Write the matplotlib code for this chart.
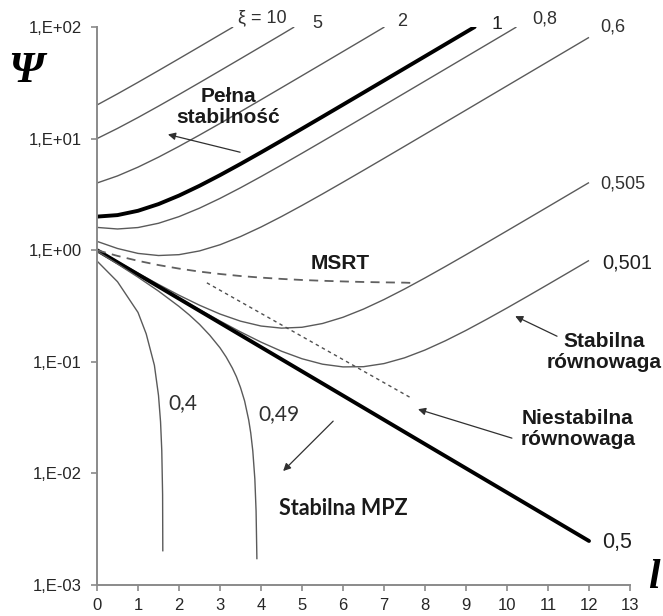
import matplotlib
matplotlib.use("Agg")
import matplotlib.pyplot as plt
from matplotlib.ticker import FixedLocator, FixedFormatter, NullLocator

# ---------------- data ----------------
l_grid = [0, 0.5, 1, 1.5, 2, 2.5, 3, 3.5, 4, 4.5, 5, 5.5, 6, 6.5, 7, 7.5,
          8, 8.5, 9, 9.5, 10, 10.5, 11, 11.5, 12]

l_xi10 = [0, 0.5, 1, 1.5, 2, 2.5, 3, 3.32]
psi_xi10 = [20, 25.17, 31.93, 40.70, 52.02, 66.60, 85.38, 100]

l_xi5 = [0, 0.5, 1, 1.5, 2, 2.5, 3, 3.5, 4, 4.5, 4.81]
psi_xi5 = [10, 12.34, 15.45, 19.53, 24.83, 31.70, 40.56, 51.96, 66.64, 85.50, 100]

l_xi2 = [0, 0.5, 1, 1.5, 2, 2.5, 3, 3.5, 4, 4.5, 5, 5.5, 6, 6.5, 7.01]
psi_xi2 = [4, 4.63, 5.55, 6.82, 8.52, 10.76, 13.67, 17.44, 22.30, 28.57,
           36.63, 46.99, 60.31, 77.41, 100]

l_xi1 = [0, 0.5, 1, 1.5, 2, 2.5, 3, 3.5, 4, 4.5, 5, 5.5, 6, 6.5, 7, 7.5,
         8, 8.5, 9, 9.21]
psi_xi1 = [2.0, 2.063, 2.255, 2.589, 3.086, 3.777, 4.705, 5.928, 7.524,
           9.593, 12.27, 15.71, 20.14, 25.83, 33.15, 42.55, 54.62, 70.12,
           90.03, 100]

l_xi08 = [0, 0.5, 1, 1.5, 2, 2.5, 3, 3.5, 4, 4.5, 5, 5.5, 6, 6.5, 7, 7.5,
          8, 8.5, 9, 9.5, 10, 10.23]
psi_xi08 = [1.6, 1.549, 1.596, 1.743, 1.999, 2.381, 2.912, 3.626, 4.569,
            5.798, 7.391, 9.449, 12.10, 15.51, 19.90, 25.54, 32.78, 42.08,
            54.02, 69.36, 89.06, 100]

psi_xi06 = [1.2, 1.036, 0.936, 0.896, 0.912, 0.985, 1.119, 1.325, 1.613,
            2.003, 2.519, 3.192, 4.067, 5.197, 6.653, 8.528, 10.94, 14.04,
            18.01, 23.13, 29.69, 38.12, 48.94, 62.84, 80.69]

psi_xi0505 = [1.01, 0.7916, 0.6230, 0.4935, 0.3951, 0.3214, 0.2679, 0.2313,
              0.2092, 0.2003, 0.2039, 0.2204, 0.2506, 0.2967, 0.3614, 0.4487,
              0.5643, 0.7153, 0.9113, 1.1645, 1.4909, 1.9109, 2.4510,
              3.1451, 4.0368]

psi_xi0501 = [1.002, 0.7814, 0.6098, 0.4766, 0.3733, 0.2935, 0.2321, 0.1853,
              0.1501, 0.1244, 0.1065, 0.0952, 0.0900, 0.0904, 0.0964,
              0.1085, 0.1275, 0.1545, 0.1911, 0.2399, 0.3035, 0.3864,
              0.4935, 0.6316, 0.8094]

l_xi05 = [0, 2, 4, 6, 8, 10, 12]
psi_xi05 = [1.0, 0.3679, 0.1353, 0.0498, 0.0183, 0.00674, 0.00248]

l_xi049 = [0, 0.5, 1, 1.5, 2, 2.25, 2.5, 2.75, 3, 3.15, 3.3, 3.4, 3.5, 3.6,
           3.7, 3.75, 3.8, 3.85, 3.88, 3.9]
psi_xi049 = [0.98, 0.7531, 0.5735, 0.4301, 0.3135, 0.2632, 0.2167, 0.1731,
             0.1335, 0.1104, 0.0880, 0.0736, 0.0588, 0.0446, 0.0301, 0.0230,
             0.0159, 0.0089, 0.0046, 0.0017]

l_xi04 = [0, 0.5, 1.0, 1.2, 1.4, 1.5, 1.55, 1.58, 1.6, 1.605]
psi_xi04 = [0.8, 0.522, 0.277, 0.178, 0.093, 0.050, 0.029, 0.016, 0.0065, 0.002]

l_msrt = [0, 0.5, 1, 1.5, 2, 2.5, 3, 3.5, 4, 4.5, 5, 5.5, 6, 6.5, 7, 7.5, 7.76]
psi_msrt = [1.0, 0.889, 0.803, 0.736, 0.684, 0.643, 0.612, 0.587, 0.568,
            0.553, 0.541, 0.532, 0.525, 0.519, 0.515, 0.512, 0.508]

l_unstable = [2.68, 7.68]
psi_unstable = [0.51, 0.047]

y_ticks = [1e-3, 1e-2, 1e-1, 1e0, 1e1, 1e2]
y_ticklabels = ["1,E-03", "1,E-02", "1,E-01", "1,E+00", "1,E+01", "1,E+02"]
x_ticks = list(range(0, 14))

# ---------------- figure ----------------
plt.rcParams['font.family'] = ['Liberation Sans', 'DejaVu Sans']
fig = plt.figure(figsize=(6.63, 6.16), dpi=100)
ax = fig.add_axes([97 / 663, 1 - 585 / 616, (630 - 97) / 663, (585 - 27) / 616])
ax.set_yscale('log')
ax.set_xlim(0, 13)
ax.set_ylim(1e-3, 1e2)

thin = dict(color='#5a5a5a', lw=1.0, solid_capstyle='butt')
thick = dict(color='black', lw=2.8, solid_capstyle='round')

ax.plot(l_xi10, psi_xi10, **thin)
ax.plot(l_xi5, psi_xi5, **thin)
ax.plot(l_xi2, psi_xi2, **thin)
ax.plot(l_xi1, psi_xi1, **thick)
ax.plot(l_xi08, psi_xi08, **thin)
ax.plot(l_grid, psi_xi06, **thin)
ax.plot(l_grid, psi_xi0505, **thin)
ax.plot(l_grid, psi_xi0501, **thin)
ax.plot(l_xi05, psi_xi05, **thick)
ax.plot(l_xi049, psi_xi049, **thin)
ax.plot(l_xi04, psi_xi04, **thin)
ax.plot(l_msrt, psi_msrt, color='#606060', lw=1.3, dashes=(5, 3.5))
ax.plot(l_unstable, psi_unstable, color='#505050', lw=1.0, dashes=(2.5, 2.5))

# axes styling
for s in ['top', 'right']:
    ax.spines[s].set_visible(False)
for s in ['left', 'bottom']:
    ax.spines[s].set_color('#8a8a8a')
    ax.spines[s].set_linewidth(1.4)
ax.yaxis.set_major_locator(FixedLocator(y_ticks))
ax.yaxis.set_major_formatter(FixedFormatter(y_ticklabels))
ax.yaxis.set_minor_locator(NullLocator())
ax.set_xticks(x_ticks)
ax.tick_params(axis='both', direction='out', length=4, width=1.2,
               color='#8a8a8a', labelcolor='#262626', labelsize=12)
ax.tick_params(axis='y', pad=7)
ax.tick_params(axis='x', pad=5)

# curve labels
lab = dict(fontsize=13, color='#303030', va='center')
ax.text(3.44, 122, "ξ = 10", ha='left', **lab)
ax.text(5.37, 108, "5", ha='center', **lab)
ax.text(7.44, 112, "2", ha='center', **lab)
ax.text(9.76, 106, "1", ha='center', fontsize=14, color='#202020', va='center')
ax.text(10.93, 117, "0,8", ha='center', **lab)
ax.text(12.59, 99.6, "0,6", ha='center', **lab)
ax.text(12.83, 3.9, "0,505", ha='center', **lab)
ax.text(12.93, 0.765, "0,501", ha='center', fontsize=14.5, color='#202020', va='center')
ax.text(12.68, 0.00242, "0,5", ha='center', fontsize=15.5, color='#202020', va='center')
ax.text(2.10, 0.0426, "0,4", ha='center', va='center', fontsize=15,
        color='#303030', family=['Lato', 'DejaVu Sans'])
ax.text(4.44, 0.0339, "0,49", ha='center', va='center', fontsize=15,
        color='#303030', family=['Lato', 'DejaVu Sans'])

# region labels
bold = dict(fontsize=15, fontweight='bold', color='#1a1a1a',
            ha='center', va='center', linespacing=1.1)
ax.text(3.20, 19.1, "Pełna\nstabilność", **bold)
ax.text(5.93, 0.765, "MSRT", **bold)
ax.text(12.37, 0.122, "Stabilna\nrównowaga", **bold)
ax.text(11.73, 0.0249, "Niestabilna\nrównowaga", **bold)
ax.text(6.0, 0.00488, "Stabilna MPZ", fontsize=15.5, fontweight='bold',
        color='#1a1a1a', ha='center', va='center',
        family=['Lato', 'DejaVu Sans'])

arrow = dict(arrowstyle='-|>', color='#303030', lw=0.9, mutation_scale=11,
             shrinkA=0, shrinkB=0)
ax.annotate("", xy=(1.73, 10.9), xytext=(3.49, 7.55), arrowprops=arrow)
ax.annotate("", xy=(10.20, 0.2564), xytext=(11.22, 0.1695), arrowprops=arrow)
ax.annotate("", xy=(7.83, 0.0376), xytext=(10.12, 0.0207), arrowprops=arrow)
ax.annotate("", xy=(4.54, 0.0105), xytext=(5.76, 0.0294), arrowprops=arrow)

# axis symbols
fig.text(26 / 663, 1 - 71 / 616, "Ψ", fontsize=32, fontweight='bold',
         fontstyle='italic', family=['Liberation Serif', 'DejaVu Serif'],
         ha='center', va='center', color='black')
fig.text(648 / 663, 1 - 588 / 616, "l", fontsize=30, fontweight='bold',
         fontstyle='italic', family=['Liberation Serif', 'DejaVu Serif'],
         ha='left', va='baseline', color='black')

fig.savefig("out.png", dpi=100)
